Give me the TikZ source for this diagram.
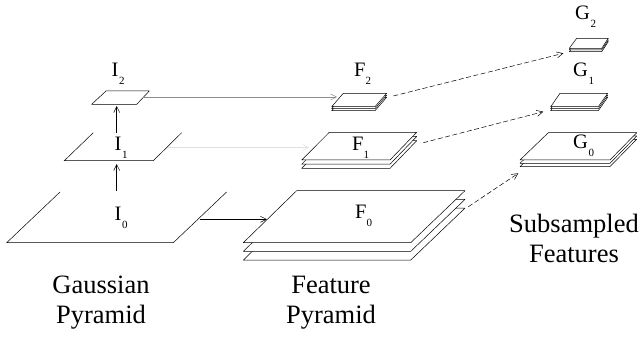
\documentclass[tikz,border=0pt]{standalone}
\usepackage{fontspec}
\setmainfont{Liberation Serif}
\usetikzlibrary{arrows.meta}
\newcommand{\lsub}[2][0.5pt]{\kern#1\raisebox{-8pt}{\fontsize{11}{11}\selectfont #2}}
\tikzset{
  plane/.style={draw=black, fill=white, line width=0.5pt, line join=round},
  lbl/.style={font=\fontsize{20.5}{21}\selectfont, inner sep=0pt, anchor=base west},
  caption/.style={font=\fontsize{26.5}{30}\selectfont, align=center, inner sep=0pt},
  feed/.style={-{Straight Barb[length=6pt,width=6pt]}, line width=0.5pt},
  subsample/.style={feed, dash pattern=on 5pt off 2.5pt},
}
\begin{document}
\begin{tikzpicture}[x=1pt, y=-1pt]
            \useasboundingbox (0,0) rectangle (641,339);

            % gaussian pyramid
            \draw[line width=0.5pt] (60,192) -- (6.7,242.7) -- (173.3,242.7) -- (226.6,192);
            \draw[line width=0.5pt] (93.3,132.7) -- (64.3,160.7) -- (153.3,160.7) -- (181.7,132.7);
            \filldraw[plane] (91.7,104.3) -- (136.7,104.3) -- (149.3,91) -- (106,91) -- cycle;

            \node[lbl] (AI0) at (114.5,221) {I\lsub{0}};
            \node[lbl] (AI1) at (114.5,151) {I\lsub{1}};
            \node[lbl] (AI2) at (111.5,77) {I\lsub{2}};

            % feature pyramid
            \filldraw[plane, shift={(0,17.4)}] (243.3,242.7) -- (410.7,242.7) -- (465,190.7) -- (296.7,190.7) -- cycle;
            \filldraw[plane, shift={(0,8.7)}] (243.3,242.7) -- (410.7,242.7) -- (465,190.7) -- (296.7,190.7) -- cycle;
            \filldraw[plane] (243.3,242.7) -- (410.7,242.7) -- (465,190.7) -- (296.7,190.7) -- cycle;

            \filldraw[plane, shift={(0,8.4)}] (301.7,160) -- (390,160) -- (416.7,132.3) -- (329.3,132.3) -- cycle;
            \filldraw[plane, shift={(0,4.2)}] (301.7,160) -- (390,160) -- (416.7,132.3) -- (329.3,132.3) -- cycle;
            \filldraw[plane] (301.7,160) -- (390,160) -- (416.7,132.3) -- (329.3,132.3) -- cycle;

            \filldraw[plane, shift={(0,4)}] (331.7,106.7) -- (375,106.7) -- (386.7,93.3) -- (343.3,93.3) -- cycle;
            \filldraw[plane, shift={(0,2)}] (331.7,106.7) -- (375,106.7) -- (386.7,93.3) -- (343.3,93.3) -- cycle;
            \filldraw[plane] (331.7,106.7) -- (375,106.7) -- (386.7,93.3) -- (343.3,93.3) -- cycle;

            \node[lbl] (AF0) at (355,218.3) {F\lsub[0pt]{0}};
            \node[lbl] (AF1) at (352,151) {F\lsub[0pt]{1}};
            \node[lbl] (AF2) at (354,77) {F\lsub[0pt]{2}};

            % subsampled features
            \filldraw[plane, shift={(0,6.6)}] (520,160) -- (610,160) -- (636.7,132.7) -- (548.3,132.7) -- cycle;
            \filldraw[plane, shift={(0,3.3)}] (520,160) -- (610,160) -- (636.7,132.7) -- (548.3,132.7) -- cycle;
            \filldraw[plane] (520,160) -- (610,160) -- (636.7,132.7) -- (548.3,132.7) -- cycle;

            \filldraw[plane, shift={(0,4)}] (550.7,106.7) -- (598.3,106.7) -- (607.7,93.3) -- (560,93.3) -- cycle;
            \filldraw[plane, shift={(0,2)}] (550.7,106.7) -- (598.3,106.7) -- (607.7,93.3) -- (560,93.3) -- cycle;
            \filldraw[plane] (550.7,106.7) -- (598.3,106.7) -- (607.7,93.3) -- (560,93.3) -- cycle;

            \filldraw[plane, shift={(0,3.4)}] (569.3,48.3) -- (601.7,48.3) -- (608.3,38.3) -- (576.7,38.3) -- cycle;
            \filldraw[plane, shift={(0,1.7)}] (569.3,48.3) -- (601.7,48.3) -- (608.3,38.3) -- (576.7,38.3) -- cycle;
            \filldraw[plane] (569.3,48.3) -- (601.7,48.3) -- (608.3,38.3) -- (576.7,38.3) -- cycle;

            \node[lbl] (AG0) at (573,149) {G\lsub{0}};
            \node[lbl] (AG1) at (573,77) {G\lsub{1}};
            \node[lbl] (AG2) at (575,20) {G\lsub{2}};

            % captions
            \node[caption] (CA) at (101,303) {Gaussian\\ Pyramid};
            \node[caption] (CB) at (331,303) {Feature\\ Pyramid};
            \node[caption] (CC) at (574,238) {Subsampled\\ Features};

            % connectors
            \coordinate (I0t) at (116.7,191);
            \coordinate (I1b) at (116.7,164);
            \coordinate (I1t) at (116.7,133);
            \coordinate (I2b) at (116.7,106);
            \coordinate (I0r) at (200,219.3);
            \coordinate (F0l) at (267,219.3);
            \coordinate (I1r) at (168,147.5);
            \coordinate (F1l) at (309,147.5);
            \coordinate (I2r) at (143,97);
            \coordinate (F2l) at (337,97);
            \coordinate (F0r) at (468.3,206.7);
            \coordinate (G0l) at (518.3,173.3);
            \coordinate (F1r) at (423.3,142.7);
            \coordinate (G1l) at (543.3,111.7);
            \coordinate (F2r) at (393.3,96);
            \coordinate (G2l) at (563.3,53.3);

            \draw[feed] (I0t) -- (I1b);
            \draw[feed] (I1t) -- (I2b);
            \draw[feed] (I0r) -- (F0l);
            \draw[feed, draw=black!12] (I1r) -- (F1l);
            \draw[feed, draw=black!45] (I2r) -- (F2l);
            \draw[subsample] (F0r) -- (G0l);
            \draw[subsample] (F1r) -- (G1l);
            \draw[subsample] (F2r) -- (G2l);
        \end{tikzpicture}
\end{document}
